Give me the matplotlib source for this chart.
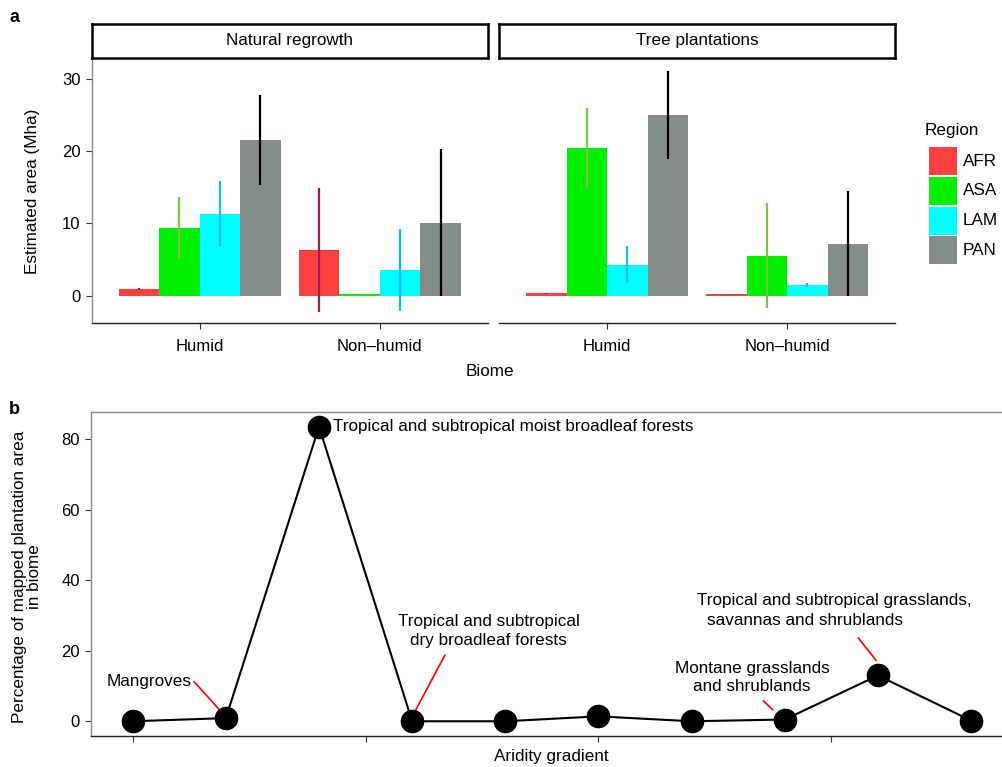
import matplotlib
matplotlib.use("Agg")
import matplotlib.pyplot as plt
from matplotlib.patches import Rectangle
import numpy as np

plt.rcParams['font.family'] = ['Liberation Sans', 'DejaVu Sans']

# ---------------- data: panel a ----------------
regions = ['AFR', 'ASA', 'LAM', 'PAN']
biomes = ['Humid', 'Non\u2013humid']
panels = ['Natural regrowth', 'Tree plantations']

regrowth_humid_mean = [0.85, 9.4, 11.3, 21.5]
regrowth_humid_low = [0.75, 5.2, 6.7, 15.3]
regrowth_humid_high = [1.0, 13.6, 15.9, 27.8]
regrowth_nonhumid_mean = [6.35, 0.15, 3.6, 10.1]
regrowth_nonhumid_low = [-2.25, 0.1, -2.1, -0.1]
regrowth_nonhumid_high = [14.9, 0.2, 9.2, 20.3]

plant_humid_mean = [0.3, 20.4, 4.3, 25.0]
plant_humid_low = [0.25, 14.9, 1.7, 18.9]
plant_humid_high = [0.35, 26.0, 6.8, 31.1]
plant_nonhumid_mean = [0.2, 5.5, 1.5, 7.2]
plant_nonhumid_low = [0.15, -1.7, 1.2, -0.1]
plant_nonhumid_high = [0.25, 12.9, 1.7, 14.5]

# ---------------- data: panel b ----------------
biome_index = [0, 1, 2, 3, 4, 5, 6, 7, 8, 9]
plantation_pct = [0.0, 0.9, 83.6, 0.0, 0.0, 1.4, 0.0, 0.5, 13.0, 0.2]

# ---------------- styles ----------------
bar_colors = ['#FF4040', '#00EE00', '#00FFFF', '#838B8B']
err_colors = ['#A0185A', '#7CC243', '#1AB8F0', '#000000']

W, H = 1003, 767
fig = plt.figure(figsize=(W / 100, H / 100), dpi=100)

def fx(px):
    return px / W

def fy(py):
    return 1 - py / H

FS = 12.3
TFS = 12

panel_data = [
    [(regrowth_humid_mean, regrowth_humid_low, regrowth_humid_high),
     (regrowth_nonhumid_mean, regrowth_nonhumid_low, regrowth_nonhumid_high)],
    [(plant_humid_mean, plant_humid_low, plant_humid_high),
     (plant_nonhumid_mean, plant_nonhumid_low, plant_nonhumid_high)],
]

panel_x = [(91.5, 488), (499, 895)]
top_a, bot_a = 59, 323.3
bw = 0.225
for p, (x0, x1) in enumerate(panel_x):
    ax = fig.add_axes([fx(x0), fy(bot_a), fx(x1 - x0), (bot_a - top_a) / H])
    for b, (mean, low, high) in enumerate(panel_data[p]):
        for r in range(4):
            xc = (b + 1) + (r - 1.5) * bw
            ax.bar(xc, mean[r], width=bw, color=bar_colors[r], linewidth=0, zorder=2)
            ax.vlines(xc, low[r], high[r], color=err_colors[r], linewidth=1.6, zorder=3)
    ax.set_xlim(0.4, 2.6)
    ax.set_ylim(-3.85, 32.8)
    ax.set_xticks([1, 2])
    ax.set_xticklabels(biomes, fontsize=TFS)
    ax.set_yticks([0, 10, 20, 30])
    ax.tick_params(axis='both', direction='out', length=4, width=0.8, colors='#333333',
                   labelcolor='black', labelsize=TFS, pad=4)
    ax.tick_params(axis='x', pad=7)
    for s in ['top', 'right']:
        ax.spines[s].set_visible(False)
    ax.spines['bottom'].set_color('#222222')
    ax.spines['bottom'].set_linewidth(1.0)
    if p == 0:
        ax.spines['left'].set_color('#888888')
        ax.spines['left'].set_linewidth(1.0)
    else:
        ax.spines['left'].set_visible(False)
        ax.tick_params(axis='y', left=False, labelleft=False)
    # strip
    sax = fig.add_axes([fx(x0), fy(57.7), fx(x1 - x0), (57.7 - 23.5) / H])
    sax.set_xticks([])
    sax.set_yticks([])
    for s in sax.spines.values():
        s.set_linewidth(1.8)
        s.set_color('black')
    sax.text(0.5, 0.5, panels[p], ha='center', va='center', fontsize=FS,
             transform=sax.transAxes)

fig.text(fx(33), fy(191), 'Estimated area (Mha)', rotation=90, ha='center',
         va='center', fontsize=FS)
fig.text(fx(490), fy(371), 'Biome', ha='center', va='center', fontsize=FS)

# legend
fig.text(fx(925), fy(130), 'Region', ha='left', va='center', fontsize=FS)
for i, (lab, col) in enumerate(zip(regions, bar_colors)):
    ytop = 147 + i * 29.8
    fig.add_artist(Rectangle((fx(929), fy(ytop + 28)), fx(28), 28 / H,
                             transform=fig.transFigure, facecolor=col,
                             edgecolor='none'))
    fig.text(fx(963), fy(ytop + 14), lab, ha='left', va='center', fontsize=FS)

fig.text(fx(9), fy(17), 'a', fontsize=13, fontweight='bold', ha='left', va='center')
fig.text(fx(9), fy(409), 'b', fontsize=13, fontweight='bold', ha='left', va='center')

# ---------------- panel b ----------------
bx0, bx1, by0, by1 = 90.8, 1013, 412, 736
axb = fig.add_axes([fx(bx0), fy(by1), fx(bx1 - bx0), (by1 - by0) / H])
axb.plot(biome_index, plantation_pct, color='black', linewidth=1.5, marker='o',
         markersize=16, markerfacecolor='black', markeredgecolor='black', zorder=3)
axb.set_xlim(-0.45, 9.45)
axb.set_ylim(-4.18, 87.78)
axb.set_xticks([0, 2.5, 5, 7.5])
axb.set_xticklabels([])
axb.set_yticks([0, 20, 40, 60, 80])
axb.tick_params(axis='both', direction='out', length=4, width=0.8, colors='#333333',
                labelcolor='black', labelsize=TFS, pad=4)
axb.spines['right'].set_visible(False)
axb.spines['top'].set_color('#888888')
axb.spines['left'].set_color('#888888')
axb.spines['bottom'].set_color('#222222')
for s in axb.spines.values():
    s.set_linewidth(1.0)
fig.text(fx(551), fy(757), 'Aridity gradient', ha='center', va='center', fontsize=FS)
fig.text(fx(27), fy(577), 'Percentage of mapped plantation area\nin biome',
         rotation=90, ha='center', va='center', fontsize=FS, linespacing=1.05)

red = '#FF0000'
axb.text(0.63, 11.2, 'Mangroves', ha='right', va='center', fontsize=FS)
axb.plot([0.66, 0.93], [11.2, 3.3], color=red, linewidth=1.2)
axb.text(2.15, 83.6, 'Tropical and subtropical moist broadleaf forests', ha='left',
         va='center', fontsize=FS)
axb.text(3.82, 25.7, 'Tropical and subtropical\ndry broadleaf forests', ha='center',
         va='center', fontsize=FS, linespacing=1.3)
axb.plot([3.35, 3.04], [18.7, 3.3], color=red, linewidth=1.2)
axb.text(6.65, 12.4, 'Montane grasslands\nand shrublands', ha='center', va='center',
         fontsize=FS, linespacing=1.3)
axb.plot([6.77, 6.87], [5.8, 3.3], color=red, linewidth=1.2)
axb.text(6.06, 34.3, 'Tropical and subtropical grasslands,', ha='left', va='center',
         fontsize=FS)
axb.text(6.17, 28.5, 'savannas and shrublands', ha='left', va='center', fontsize=FS)
axb.plot([7.79, 7.98], [23.6, 17.3], color=red, linewidth=1.2)

fig.savefig('out.png', dpi=100)
